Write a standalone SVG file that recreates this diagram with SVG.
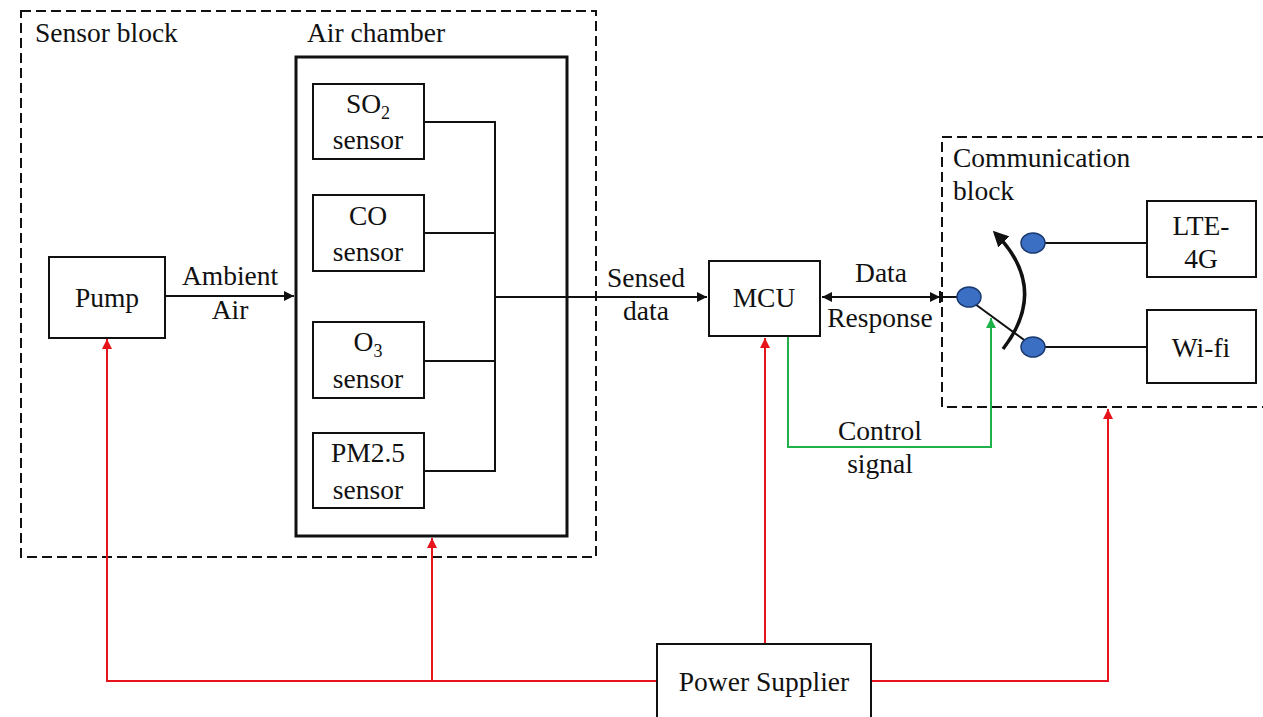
<svg xmlns="http://www.w3.org/2000/svg" width="1263" height="717" viewBox="0 0 1263 717" font-family="'Liberation Serif', 'DejaVu Serif', serif">
<style>
text{font-family:'Liberation Serif','DejaVu Serif',serif;font-size:27.5px;fill:#111}
.c{text-anchor:middle}
.box{fill:#fff;stroke:#111;stroke-width:2}
.dash{fill:none;stroke:#111;stroke-width:2;stroke-dasharray:10 5}
.k{fill:none;stroke:#111;stroke-width:2}
.r{fill:none;stroke:#e8141c;stroke-width:2}
.g{fill:none;stroke:#1fb24a;stroke-width:2}
.dot{fill:#3a6fc4;stroke:#1a3a70;stroke-width:1.5}
</style>
<defs>
<marker id="ak" viewBox="0 0 10 10" refX="10" refY="5" markerWidth="5" markerHeight="5" orient="auto-start-reverse"><path d="M0,0L10,5L0,10z" fill="#111"/></marker>
<marker id="ar" viewBox="0 0 10 10" refX="10" refY="5" markerWidth="5" markerHeight="5" orient="auto"><path d="M0,0L10,5L0,10z" fill="#e8141c"/></marker>
<marker id="ag" viewBox="0 0 10 10" refX="10" refY="5" markerWidth="5" markerHeight="5" orient="auto"><path d="M0,0L10,5L0,10z" fill="#1fb24a"/></marker>
<marker id="abig" viewBox="0 0 10 10" refX="8" refY="5" markerWidth="4.5" markerHeight="4.5" orient="auto"><path d="M0,0L10,5L0,10z" fill="#111"/></marker>
</defs>
<rect width="1263" height="717" fill="#fff"/>

<g id="sensor-block">
<rect class="dash" x="21" y="11" width="575" height="546"/>
<text x="35" y="42">Sensor block</text>
</g>
<g id="comm-block">
<rect class="dash" x="942" y="137" width="330" height="270"/>
<text x="953" y="167">Communication</text>
<text x="953" y="200">block</text>
</g>
<g id="air-chamber">
<rect class="box" x="296" y="57" width="271" height="479" style="stroke-width:3"/>
<text x="307" y="42">Air chamber</text>
</g>

<g id="connectors">
<path class="k" d="M424,122H495M424,233H495M424,361H495M424,471H495M495,121V472"/>
<path class="k" d="M495,297H707" marker-end="url(#ak)"/>
<path class="k" d="M165,296H294" marker-end="url(#ak)"/>
<path class="k" d="M822,297H940" marker-start="url(#ak)" marker-end="url(#ak)"/>
<path class="k" d="M940,297H958M940,291V303"/>
<path class="k" d="M1045,243H1147M1045,347H1147"/>
<path class="k" d="M975,304L1027,342"/>
<path class="k" style="stroke-width:3.5" d="M1003,349Q1050,288 995,233" marker-end="url(#abig)"/>
<path class="g" d="M788,336V447H991V318" marker-end="url(#ag)"/>
<path class="r" d="M765,644V338" marker-end="url(#ar)"/>
<path class="r" d="M871,681H1108V409" marker-end="url(#ar)"/>
<path class="r" d="M657,681H107V339" marker-end="url(#ar)"/>
<path class="r" d="M432,681V538" marker-end="url(#ar)"/>
</g>

<g id="pump"><rect class="box" x="49" y="257" width="116" height="81"/><text class="c" x="107" y="307">Pump</text></g>
<text class="c" x="230" y="285">Ambient</text>
<text class="c" x="230" y="319">Air</text>

<g id="so2"><rect class="box" x="313" y="84" width="111" height="75"/><text class="c" x="368" y="113">SO<tspan font-size="18" dy="6">2</tspan></text><text class="c" x="368" y="149">sensor</text></g>
<g id="co"><rect class="box" x="313" y="195" width="111" height="76"/><text class="c" x="368" y="225">CO</text><text class="c" x="368" y="261">sensor</text></g>
<g id="o3"><rect class="box" x="313" y="322" width="111" height="76"/><text class="c" x="368" y="351">O<tspan font-size="18" dy="6">3</tspan></text><text class="c" x="368" y="388">sensor</text></g>
<g id="pm25"><rect class="box" x="313" y="433" width="111" height="75"/><text class="c" x="368" y="462">PM2.5</text><text class="c" x="368" y="499">sensor</text></g>

<text class="c" x="646" y="287">Sensed</text>
<text class="c" x="646" y="320">data</text>

<g id="mcu"><rect class="box" x="709" y="261" width="111" height="75"/><text class="c" x="764" y="307">MCU</text></g>
<text class="c" x="881" y="282">Data</text>
<text class="c" x="880" y="327">Response</text>
<text class="c" x="880" y="440">Control</text>
<text class="c" x="880" y="473">signal</text>

<g id="switch">
<ellipse class="dot" cx="969" cy="297" rx="12" ry="10"/>
<ellipse class="dot" cx="1033" cy="243" rx="12" ry="10"/>
<ellipse class="dot" cx="1033" cy="347" rx="12" ry="10"/>
</g>
<g id="lte"><rect class="box" x="1147" y="201" width="109" height="76"/><text class="c" x="1201" y="235">LTE-</text><text class="c" x="1201" y="268">4G</text></g>
<g id="wifi"><rect class="box" x="1147" y="310" width="109" height="73"/><text class="c" x="1201" y="357">Wi-fi</text></g>
<g id="power"><rect class="box" x="657" y="644" width="214" height="80"/><text class="c" x="764" y="691">Power Supplier</text></g>
</svg>
